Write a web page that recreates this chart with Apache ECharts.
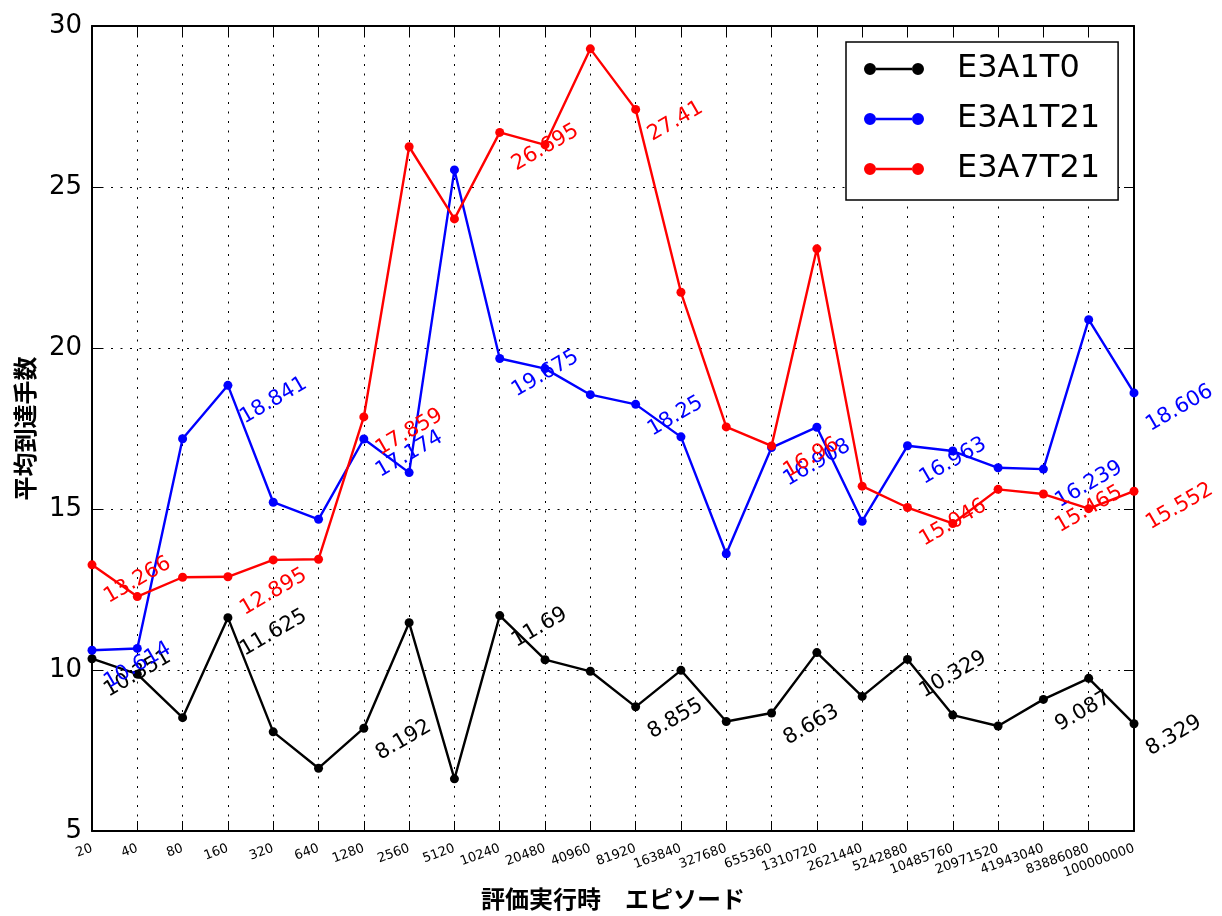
<!DOCTYPE html>
<html>
<head>
<meta charset="utf-8">
<script src="https://cdn.jsdelivr.net/npm/echarts@6/dist/echarts.min.js"></script>
<style>
html,body{margin:0;padding:0;background:#fff;}
#chart{width:1222px;height:916px;}
</style>
</head>
<body>
<div id="chart"></div>
<script>
const categories = ['20','40','80','160','320','640','1280','2560','5120','10240','20480','40960','81920','163840','327680','655360','1310720','2621440','5242880','10485760','20971520','41943040','83886080','100000000'];

const seriesNames = ['E3A1T0', 'E3A1T21', 'E3A7T21'];

const valuesE3A1T0 = [10.351, 9.87, 8.52, 11.625, 8.08, 6.95, 8.192, 11.47, 6.62, 11.69, 10.32, 9.96, 8.855, 9.99, 8.40, 8.663, 10.54, 9.18, 10.329, 8.60, 8.26, 9.087, 9.74, 8.329];
const valuesE3A1T21 = [10.614, 10.67, 17.18, 18.841, 15.21, 14.68, 17.174, 16.13, 25.53, 19.675, 19.36, 18.55, 18.25, 17.24, 13.61, 16.908, 17.54, 14.62, 16.963, 16.80, 16.28, 16.239, 20.88, 18.606];
const valuesE3A7T21 = [13.266, 12.28, 12.88, 12.895, 13.42, 13.44, 17.859, 26.25, 24.01, 26.695, 26.31, 29.29, 27.41, 21.73, 17.55, 16.96, 23.08, 15.71, 15.046, 14.55, 15.61, 15.465, 15.01, 15.552];

const labeledIndices = [0, 3, 6, 9, 12, 15, 18, 21, 23];

const yTicks = [5, 10, 15, 20, 25, 30];

const colors = ['#000000', '#0000ff', '#ff0000'];

const FONT = 'DejaVu Sans';
const LABEL_FS = 21;
const SYM = 9;

function textWidth(s, fs) {
  let w = 0;
  for (const ch of s) w += (ch === '.' ? 0.318 : 0.636);
  return w * fs;
}

function buildData(values, color) {
  return values.map((v, i) => {
    if (labeledIndices.indexOf(i) < 0) return v;
    const txt = String(v);
    const L = textWidth(txt, LABEL_FS);
    return {
      value: v,
      label: {
        show: true,
        formatter: txt,
        color: color,
        fontSize: LABEL_FS,
        fontFamily: FONT,
        rotate: 30,
        align: 'left',
        verticalAlign: 'bottom',
        position: [SYM / 2 + 19, SYM / 2 + L / 2 + 6]
      }
    };
  });
}

const allValues = [valuesE3A1T0, valuesE3A1T21, valuesE3A7T21];

const legendIcon = 'path://M0,6a6,6 0 1,0 12,0a6,6 0 1,0 -12,0Z M48,6a6,6 0 1,0 12,0a6,6 0 1,0 -12,0Z M11.8,4.8H48.2V7.2H11.8Z';

const chart = echarts.init(document.getElementById('chart'), null, {renderer: 'canvas'});

const dotted = {color: '#000', width: 1, type: [2, 7.5]};

const option = {
  animation: false,
  backgroundColor: '#fff',
  grid: {left: 92, top: 26, right: 88, bottom: 84, containLabel: false},
  legend: {
    orient: 'vertical',
    left: 846,
    top: 42,
    data: seriesNames,
    icon: legendIcon,
    itemWidth: 60,
    itemHeight: 12,
    itemGap: 18,
    padding: [11, 18, 15, 18],
    borderColor: '#000',
    borderWidth: 1.5,
    backgroundColor: '#fff',
    itemStyle: {borderWidth: 0},
    textStyle: {fontFamily: FONT, fontSize: 32, color: '#000', padding: [0, 0, 0, 28]},
    z: 10
  },
  xAxis: [{
    type: 'category',
    data: categories,
    boundaryGap: false,
    name: '評価実行時　エピソード',
    nameLocation: 'middle',
    nameGap: 56,
    nameTextStyle: {fontFamily: 'Noto Sans CJK JP', fontSize: 24, fontWeight: 'bold', color: '#000'},
    axisLine: {lineStyle: {color: '#000', width: 2}},
    axisTick: {inside: true, length: 10, interval: 0, lineStyle: {color: '#000', width: 1}},
    axisLabel: {interval: 0, rotate: 20, fontSize: 13, fontFamily: FONT, color: '#000', margin: 17},
    splitLine: {show: true, interval: 0, lineStyle: dotted}
  }, {
    type: 'category',
    data: categories,
    boundaryGap: false,
    position: 'top',
    axisLine: {lineStyle: {color: '#000', width: 2}},
    axisTick: {inside: true, length: 10, interval: 0, lineStyle: {color: '#000', width: 1}},
    axisLabel: {show: false},
    splitLine: {show: false}
  }],
  yAxis: [{
    type: 'value',
    min: yTicks[0],
    max: yTicks[yTicks.length - 1],
    interval: 5,
    name: '平均到達手数',
    nameLocation: 'middle',
    nameGap: 55,
    nameTextStyle: {fontFamily: 'Noto Sans CJK JP', fontSize: 24, fontWeight: 'bold', color: '#000'},
    axisLine: {show: true, lineStyle: {color: '#000', width: 2}},
    axisTick: {show: true, inside: true, length: 10, lineStyle: {color: '#000', width: 1}},
    axisLabel: {fontSize: 26, fontFamily: FONT, color: '#000', margin: 10},
    splitLine: {show: true, lineStyle: dotted}
  }, {
    type: 'value',
    position: 'right',
    min: yTicks[0],
    max: yTicks[yTicks.length - 1],
    interval: 5,
    axisLine: {show: true, lineStyle: {color: '#000', width: 2}},
    axisTick: {show: true, inside: true, length: 10, lineStyle: {color: '#000', width: 1}},
    axisLabel: {show: false},
    splitLine: {show: false}
  }],
  series: seriesNames.map((name, k) => ({
    name: name,
    type: 'line',
    xAxisIndex: 0,
    yAxisIndex: 0,
    data: buildData(allValues[k], colors[k]),
    color: colors[k],
    symbol: 'circle',
    symbolSize: SYM,
    showAllSymbol: true,
    lineStyle: {color: colors[k], width: 2.4},
    itemStyle: {color: colors[k]},
    emphasis: {disabled: true},
    z: 2 + k
  }))
};

chart.setOption(option);
</script>
</body>
</html>
